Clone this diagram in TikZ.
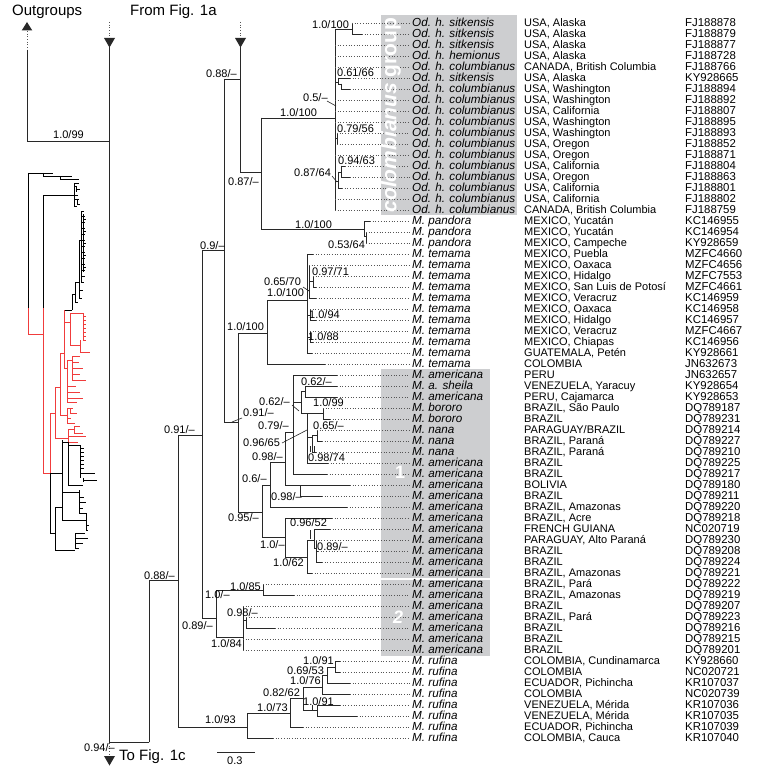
\documentclass[tikz,border=0pt]{standalone}
\usepackage{fontspec}
\setmainfont{Liberation Sans}
\definecolor{treecol}{RGB}{40,40,40}
\definecolor{dotcol}{RGB}{85,85,85}
\definecolor{boxgray}{RGB}{205,206,208}
\definecolor{minired}{RGB}{240,60,60}
\tikzset{
  br/.style={line width=0.85pt, draw=treecol, line cap=rect},
  dotl/.style={line width=0.75pt, draw=dotcol, dash pattern=on 0.8pt off 1.9pt},
  taxon/.style={anchor=west, inner sep=0pt, text height=8.6pt, text depth=1.2pt, font=\fontsize{11.7}{12}\selectfont\itshape},
  cty/.style={anchor=west, inner sep=0pt, text height=8.6pt, text depth=1.2pt, font=\fontsize{11}{12}\selectfont},
  accn/.style={anchor=west, inner sep=0pt, text height=8.6pt, text depth=1.2pt, font=\fontsize{11.4}{12}\selectfont},
  lab/.style={anchor=west, inner sep=0pt, text height=8.6pt, text depth=1.2pt, font=\fontsize{11}{12}\selectfont},
  head/.style={anchor=west, inner sep=0pt, font=\fontsize{15}{16}\selectfont},
  mb/.style={line width=0.6pt, draw=black},
  mr/.style={line width=0.6pt, draw=minired},
  ptr/.style={line width=0.6pt, draw=treecol},
}
\newcommand\brV[3]{\draw[br] (#1,#2) -- (#1,#3);}
\newcommand\brH[3]{\draw[br] (#2,#1) -- (#3,#1);}
\newcommand\tip[6]{%
  \node[taxon] (t#1) at (412,23+11*#1) {#4};
  \node[cty] (c#1) at (524,23+11*#1) {#5};
  \node[accn] (a#1) at (685,23+11*#1) {#6};
  \draw[br] (#2,23+11*#1) -- (#3,23+11*#1);
  \draw[dotl] (#3,23+11*#1) -- ([xshift=-2.5pt]t#1.west);
}
\newcommand\lab[4]{\node[lab] (#1) at (#2,#3) {#4};}
\begin{document}
\begin{tikzpicture}[x=1pt,y=-1pt]
\useasboundingbox (0,0) rectangle (756,770);
\fill[white] (0,0) rectangle (756,770);
% grey group boxes
\fill[boxgray] (381,15) rectangle (517,215);
\fill[boxgray] (381,369) rectangle (490,578);
\fill[boxgray] (381,580) rectangle (490,656);

% headers and arrows
\node[head] (hOut) at (12,12) {Outgroups};
\node[head] (hFrom) at (130,12) {From Fig. 1a};
\node[head] (hTo) at (119,757) {To Fig. 1c};
\fill[treecol] (27,22) -- (32.3,30.5) -- (21.7,30.5) -- cycle;
\draw[dotl] (27,31) -- (27,50);
\fill[treecol] (104,38) -- (115,38) -- (109.5,47.5) -- cycle;
\draw[dotl] (109.5,22) -- (109.5,38);
\fill[treecol] (235,38) -- (246,38) -- (240.5,47.5) -- cycle;
\draw[dotl] (240.5,22) -- (240.5,38);
\draw[dotl] (109.5,743) -- (109.5,756);
\fill[treecol] (104,756) -- (115,756) -- (109.5,765.5) -- cycle;

% backbone
\brV{27}{50}{141}
\brH{141}{27}{109.5}
\brV{109.5}{47}{742}
\brH{742}{109.5}{149}
\brV{149}{580}{742}
\brH{580}{149}{178}
\brV{178}{435}{727}
\brH{435}{178}{202}
\brH{727}{178}{247}
\brV{202}{250}{618}
\brH{250}{202}{224}
\brH{618}{202}{216}
\brV{224}{79}{422}
\brH{79}{224}{240.5}
\brV{240.5}{47}{172}
\brH{172}{240.5}{261}
\brH{422}{224}{238}
% colombianus + pandora
\brV{261}{118}{229}
\brH{118}{261}{335}
\brV{335}{29}{210}
\brH{29}{335}{352}
\brV{352}{23}{34}
\brV{338}{78}{84}
\brH{82}{335}{338}
\brH{84}{338}{341}
\brV{341}{84}{89}
\brV{337}{133}{144}
\brH{138}{335}{337}
\brV{338}{172}{188}
\brH{181}{335}{338}
\brH{172}{338}{341}
\brV{341}{166}{177}
\brH{229}{261}{364}
\brV{364}{221}{236}
\brH{236}{364}{366}
\brV{366}{232}{243}
% temama
\brV{238}{333}{512}
\brH{333}{238}{267}
\brH{512}{238}{262}
\brV{267}{300}{364}
\brH{300}{267}{307}
\brV{307}{254}{353}
\brV{309}{265}{298}
\brH{290}{307}{309}
\brV{313}{276}{287}
\brH{281}{309}{313}
\brV{310}{309}{320}
\brH{315}{307}{310}
\brV{310}{331}{342}
\brH{337}{307}{310}
% group 1
\brV{262}{485}{537}
\brH{485}{262}{270}
\brH{537}{262}{285}
\brV{270}{462}{507}
\brH{462}{270}{285}
\brV{285}{432}{485}
\brH{432}{285}{293}
\brV{300}{485}{496}
\brV{293}{375}{474}
\brH{402}{293}{301}
\brV{301}{391}{413}
\brH{391}{301}{305}
\brV{305}{386}{397}
\brH{413}{301}{307}
\brV{307}{413}{463}
\brH{413}{307}{323}
\brV{323}{408}{419}
\brH{437}{307}{312}
\brV{312}{435}{452}
\brH{435}{312}{317}
\brV{317}{430}{441}
\brV{285}{518}{557}
\brH{557}{285}{307}
\brV{307}{540}{573}
\brH{540}{307}{314}
\brV{314}{529}{548}
\brH{548}{314}{316}
\brV{316}{540}{562}
% group 2
\brV{216}{590}{637}
\brH{590}{216}{263}
\brV{263}{584}{595}
\brH{637}{216}{243}
\brV{243}{606}{650}
\brH{620}{243}{246}
\brV{246}{617}{628}
% rufina
\brV{247}{713}{738}
\brH{713}{247}{290}
\brV{290}{698}{727}
\brH{698}{290}{303}
\brV{303}{687}{710}
\brH{687}{303}{322}
\brV{322}{675}{694}
\brH{675}{322}{327}
\brV{327}{667}{683}
\brH{667}{327}{335}
\brV{335}{661}{672}
\brH{710}{303}{317}
\brV{317}{705}{716}

% pointer lines
\draw[ptr] (327,101) -- (336,106);
\draw[ptr] (332,176) -- (337,182);
\draw[ptr] (303,287) -- (309,291);
\draw[ptr] (232,422) -- (242,418);
\draw[ptr] (292,405) -- (299,411);
\draw[ptr] (282,443) -- (307,430);
\draw[ptr] (310,446) -- (310,452);
\draw[ptr] (314,446) -- (314,452);
\draw[ptr] (310,530) -- (310,539);
\draw[ptr] (312,705) -- (312,711);

% tips
\tip{0}{352}{352}{Od. h. sitkensis}{USA, Alaska}{FJ188878}
\tip{1}{352}{362}{Od. h. sitkensis}{USA, Alaska}{FJ188879}
\tip{2}{335}{335}{Od. h. sitkensis}{USA, Alaska}{FJ188877}
\tip{3}{335}{335}{Od. h. hemionus}{USA, Alaska}{FJ188728}
\tip{4}{335}{335}{Od. h. columbianus}{CANADA, British Columbia}{FJ188766}
\tip{5}{338}{350}{Od. h. sitkensis}{USA, Alaska}{KY928665}
\tip{6}{341}{350}{Od. h. columbianus}{USA, Washington}{FJ188894}
\tip{7}{335}{335}{Od. h. columbianus}{USA, Washington}{FJ188892}
\tip{8}{335}{335}{Od. h. columbianus}{USA, California}{FJ188807}
\tip{9}{335}{335}{Od. h. columbianus}{USA, Washington}{FJ188895}
\tip{10}{337}{337}{Od. h. columbianus}{USA, Washington}{FJ188893}
\tip{11}{337}{337}{Od. h. columbianus}{USA, Oregon}{FJ188852}
\tip{12}{335}{335}{Od. h. columbianus}{USA, Oregon}{FJ188871}
\tip{13}{341}{345}{Od. h. columbianus}{USA, California}{FJ188804}
\tip{14}{341}{350}{Od. h. columbianus}{USA, Oregon}{FJ188863}
\tip{15}{338}{342}{Od. h. columbianus}{USA, California}{FJ188801}
\tip{16}{335}{335}{Od. h. columbianus}{USA, California}{FJ188802}
\tip{17}{335}{335}{Od. h. columbianus}{CANADA, British Columbia}{FJ188759}
\tip{18}{364}{370}{M. pandora}{MEXICO, Yucatán}{KC146955}
\tip{19}{366}{366}{M. pandora}{MEXICO, Yucatán}{KC146954}
\tip{20}{366}{366}{M. pandora}{MEXICO, Campeche}{KY928659}
\tip{21}{307}{313}{M. temama}{MEXICO, Puebla}{MZFC4660}
\tip{22}{309}{309}{M. temama}{MEXICO, Oaxaca}{MZFC4656}
\tip{23}{313}{313}{M. temama}{MEXICO, Hidalgo}{MZFC7553}
\tip{24}{313}{316}{M. temama}{MEXICO, San Luis de Potosí}{MZFC4661}
\tip{25}{309}{316}{M. temama}{MEXICO, Veracruz}{KC146959}
\tip{26}{310}{310}{M. temama}{MEXICO, Oaxaca}{KC146958}
\tip{27}{310}{316}{M. temama}{MEXICO, Hidalgo}{KC146957}
\tip{28}{310}{310}{M. temama}{MEXICO, Veracruz}{MZFC4667}
\tip{29}{310}{313}{M. temama}{MEXICO, Chiapas}{KC146956}
\tip{30}{307}{312}{M. temama}{GUATEMALA, Petén}{KY928661}
\tip{31}{267}{325}{M. temama}{COLOMBIA}{JN632673}
\tip{32}{293}{337}{M. americana}{PERU}{JN632657}
\tip{33}{305}{337}{M. a. sheila}{VENEZUELA, Yaracuy}{KY928654}
\tip{34}{305}{337}{M. americana}{PERU, Cajamarca}{KY928653}
\tip{35}{323}{323}{M. bororo}{BRAZIL, São Paulo}{DQ789187}
\tip{36}{323}{330}{M. bororo}{BRAZIL}{DQ789231}
\tip{37}{317}{317}{M. nana}{PARAGUAY/BRAZIL}{DQ789214}
\tip{38}{317}{322}{M. nana}{BRAZIL, Paraná}{DQ789227}
\tip{39}{312}{316}{M. nana}{BRAZIL, Paraná}{DQ789210}
\tip{40}{307}{328}{M. americana}{BRAZIL}{DQ789225}
\tip{41}{293}{327}{M. americana}{BRAZIL}{DQ789217}
\tip{42}{285}{350}{M. americana}{BOLIVIA}{DQ789180}
\tip{43}{300}{322}{M. americana}{BRAZIL}{DQ789211}
\tip{44}{270}{347}{M. americana}{BRAZIL, Amazonas}{DQ789220}
\tip{45}{285}{332}{M. americana}{BRAZIL, Acre}{DQ789218}
\tip{46}{314}{330}{M. americana}{FRENCH GUIANA}{NC020719}
\tip{47}{316}{316}{M. americana}{PARAGUAY, Alto Paraná}{DQ789230}
\tip{48}{316}{318}{M. americana}{BRAZIL}{DQ789208}
\tip{49}{316}{322}{M. americana}{BRAZIL}{DQ789224}
\tip{50}{307}{312}{M. americana}{BRAZIL, Amazonas}{DQ789221}
\tip{51}{263}{263}{M. americana}{BRAZIL, Pará}{DQ789222}
\tip{52}{263}{294}{M. americana}{BRAZIL, Amazonas}{DQ789219}
\tip{53}{243}{243}{M. americana}{BRAZIL}{DQ789207}
\tip{54}{246}{246}{M. americana}{BRAZIL, Pará}{DQ789223}
\tip{55}{246}{275}{M. americana}{BRAZIL}{DQ789216}
\tip{56}{243}{243}{M. americana}{BRAZIL}{DQ789215}
\tip{57}{243}{243}{M. americana}{BRAZIL}{DQ789201}
\tip{58}{335}{340}{M. rufina}{COLOMBIA, Cundinamarca}{KY928660}
\tip{59}{335}{340}{M. rufina}{COLOMBIA}{NC020721}
\tip{60}{327}{350}{M. rufina}{ECUADOR, Pichincha}{KR107037}
\tip{61}{322}{350}{M. rufina}{COLOMBIA}{NC020739}
\tip{62}{317}{340}{M. rufina}{VENEZUELA, Mérida}{KR107036}
\tip{63}{317}{357}{M. rufina}{VENEZUELA, Mérida}{KR107035}
\tip{64}{290}{303}{M. rufina}{ECUADOR, Pichincha}{KR107039}
\tip{65}{247}{273}{M. rufina}{COLOMBIA, Cauca}{KR107040}

% group labels
\node[white, rotate=90, inner sep=0pt, font=\fontsize{21}{22}\selectfont\bfseries] (gcol) at (391,115) {\textit{colombianus} group};
\node[white, inner sep=0pt, font=\fontsize{18}{19}\selectfont\bfseries] (g1) at (400,472) {1};
\node[white, inner sep=0pt, font=\fontsize{18}{19}\selectfont\bfseries\itshape] (g2) at (398,617) {2};

% support values
\lab{s1}{53}{135}{1.0/99}
\lab{s2}{206}{74}{0.88/–}
\lab{s3}{312}{25}{1.0/100}
\lab{s4}{337}{73}{0.61/66}
\lab{s5}{303}{98}{0.5/–}
\lab{s6}{280}{113}{1.0/100}
\lab{s7}{337}{129}{0.79/56}
\lab{s8}{338}{161}{0.94/63}
\lab{s9}{294}{173}{0.87/64}
\lab{s10}{228}{182}{0.87/–}
\lab{s11}{295}{225}{1.0/100}
\lab{s12}{328}{245}{0.53/64}
\lab{s13}{200}{246}{0.9/–}
\lab{s14}{264}{282}{0.65/70}
\lab{s15}{312}{272}{0.97/71}
\lab{s16}{267}{293}{1.0/100}
\lab{s17}{227}{327}{1.0/100}
\lab{s18}{309}{315}{1.0/94}
\lab{s19}{308}{337}{1.0/88}
\lab{s20}{301}{382}{0.62/–}
\lab{s21}{259}{402}{0.62/–}
\lab{s22}{313}{403}{1.0/99}
\lab{s23}{243}{413}{0.91/–}
\lab{s24}{258}{426}{0.79/–}
\lab{s25}{313}{426}{0.65/–}
\lab{s26}{164}{430}{0.91/–}
\lab{s27}{243}{443}{0.96/65}
\lab{s28}{252}{457}{0.98/–}
\lab{s29}{308}{458}{0.98/74}
\lab{s30}{242}{479}{0.6/–}
\lab{s31}{271}{497}{0.98/–}
\lab{s32}{228}{518}{0.95/–}
\lab{s33}{290}{523}{0.96/52}
\lab{s34}{260}{545}{1.0/–}
\lab{s35}{317}{547}{0.89/–}
\lab{s36}{273}{563}{1.0/62}
\lab{s37}{144}{576}{0.88/–}
\lab{s38}{230}{587}{1.0/85}
\lab{s39}{205}{595}{1.0/–}
\lab{s40}{227}{613}{0.98/–}
\lab{s41}{182}{626}{0.89/–}
\lab{s42}{211}{644}{1.0/84}
\lab{s43}{303}{661}{1.0/91}
\lab{s44}{287}{671}{0.69/53}
\lab{s45}{290}{681}{1.0/76}
\lab{s46}{263}{693}{0.82/62}
\lab{s47}{303}{702}{1.0/91}
\lab{s48}{257}{708}{1.0/73}
\lab{s49}{205}{720}{1.0/93}
\lab{s50}{84}{748}{0.94/–}
% scale bar
\coordinate (sbL) at (217,752);
\coordinate (sbR) at (255,752);
\draw[br, line cap=butt] (sbL) -- (sbR);
\lab{s51}{227}{761}{0.3}

% ---- miniature tree ----
\draw[mb] (28,173) -- (28,308);
\draw[mb] (28,173) -- (53,173) (43,173) -- (43,176) -- (72,176) (60,176) -- (60,179) -- (79,179);
\draw[mb] (43,195) -- (43,308) (43,195) -- (74,195);
\draw[mb] (74,183) -- (74,206) (74,183) -- (79,183) (74,186) -- (76,186) (76,186) -- (76,192)
  (76,189) -- (80,189) (74,195) -- (78,195) (74,199) -- (79,199) (77,199) -- (77,204) -- (80,204) (74,206) -- (77,206);
\draw[mb] (64,310) -- (72,310) (72,294) -- (72,310) (72,294) -- (75,294) (75,282) -- (75,302)
  (75,302) -- (78,302) (75,282) -- (79,282) (79,240) -- (79,298) (79,298) -- (82,298) (79,290) -- (83,290)
  (79,240) -- (81,240) (81,211) -- (81,282) (81,211) -- (84,211) (83,214) -- (83,272) (81,282) -- (84,282);
\foreach \yy in {216,222,...,276} { \draw[mb] (81,\yy) -- (84.5,\yy); }
\foreach \yy in {219,231,...,267} { \draw[mb] (83,\yy) -- (85.5,\yy); }
% red part
\draw[mr] (28,308) -- (28,334) -- (43,334);
\draw[mr] (43,308) -- (43,473) -- (50,473);
\draw[mr] (50,413) -- (50,473) (50,413) -- (55,413);
\draw[mr] (55,387) -- (55,438) -- (68,438);
\draw[mr] (68,429) -- (68,442) (68,429) -- (74,429) (74,426) -- (74,433) (74,426) -- (80,426)
  (74,433) -- (83,433) (68,436) -- (86,436) (68,442) -- (78,442);
\draw[mr] (55,387) -- (60,387) (60,353) -- (60,415) -- (67,415);
\draw[mr] (67,408) -- (67,423) (67,408) -- (73,408) (70,408) -- (70,413) -- (77,413) (67,418) -- (71,418) (67,423) -- (75,423);
\draw[mr] (60,353) -- (64,353) (64,310) -- (64,368) -- (67,368);
\draw[mr] (67,360) -- (67,402) (67,360) -- (72,360) (72,356) -- (72,380) (72,356) -- (80,356) (72,362) -- (79,362)
  (72,368) -- (83,368) (72,374) -- (80,374) (72,380) -- (86,380) (67,386) -- (76,386) (67,392) -- (80,392)
  (67,398) -- (83,398) (67,402) -- (77,402);
\draw[mr] (64,322) -- (70,322) (70,313) -- (70,345) (70,313) -- (83,313) (83,313) -- (83,340)
  (70,345) -- (80,345) (80,340) -- (80,352) -- (90,352);
\foreach \yy in {316,320,...,340} { \draw[mr] (83,\yy) -- (86,\yy); }
% black lower part
\draw[mb] (50,473) -- (50,533) -- (55,533) (50,473) -- (62,473);
\draw[mb] (62,440) -- (62,520) (62,442) -- (68,442) (68,442) -- (68,485) (68,445) -- (80,445)
  (80,445) -- (80,478) (80,473) -- (95,473) (83,480) -- (97,480) (68,485) -- (83,485) (83,478) -- (83,482);
\foreach \yy in {448,452,...,470} { \draw[mb] (80,\yy) -- (84,\yy); }
\draw[mb] (62,492) -- (79,492) (79,490) -- (79,513) (79,497) -- (84,497) (79,502) -- (86,502) (79,508) -- (83,508)
  (79,513) -- (87,513) (62,520) -- (86,520) (86,513) -- (86,530) (86,525) -- (89,525) (86,530) -- (88,530);
\draw[mb] (55,507) -- (55,550) (55,507) -- (62,507) (55,550) -- (75,550) (75,533) -- (75,548)
  (75,533) -- (85,533) (75,538) -- (88,538) (75,543) -- (83,543) (75,548) -- (79,548);
\end{tikzpicture}
\end{document}
